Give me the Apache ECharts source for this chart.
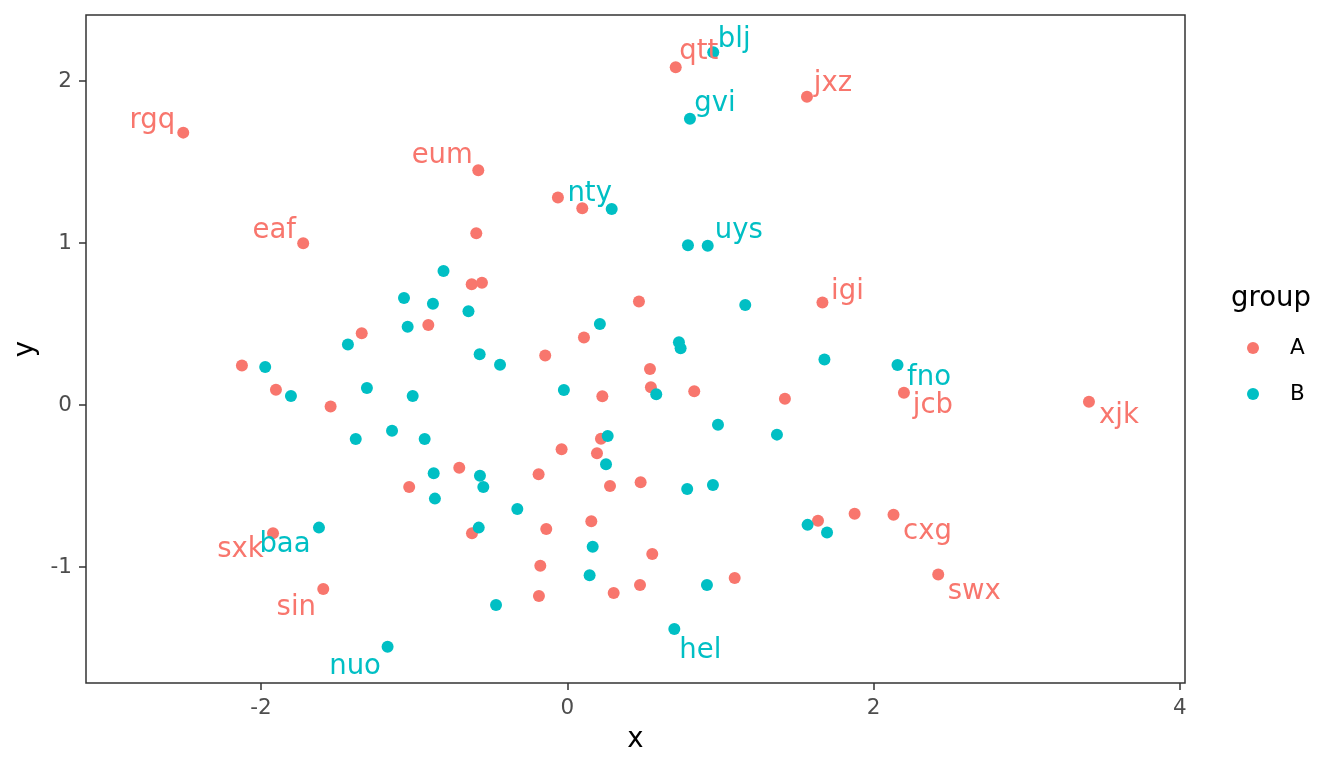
<!DOCTYPE html>
<html>
<head>
<meta charset="utf-8">
<script src="https://cdn.jsdelivr.net/npm/echarts@6/dist/echarts.min.js"></script>
<style>
  html, body { margin: 0; padding: 0; background: #ffffff; }
  #chart { width: 1344px; height: 768px; }
</style>
</head>
<body>
<div id="chart"></div>
<script>
// ---- data ----
const groupNames = ['A', 'B'];

const aX = [-2.507, -0.581, -1.724, -0.594, -0.624, -0.557, -0.907, -1.342, -2.124, -1.902,
            -1.545, -1.032, -0.705, -0.187, -0.622, -1.921, -1.593, -0.176, -0.185, -0.137,
            -0.037, -0.144, -0.061, 0.098, 0.708, 1.565, 0.109, 0.468, 0.540, 0.546,
            0.229, 0.220, 0.194, 0.279, 0.479, 0.157, 0.555, 0.303, 0.475, 1.093,
            0.829, 1.421, 1.666, 2.198, 3.406, 2.130, 1.876, 1.637, 2.422];
const aY = [1.681, 1.449, 0.998, 1.060, 0.745, 0.755, 0.494, 0.443, 0.243, 0.094,
            -0.010, -0.506, -0.387, -0.428, -0.792, -0.792, -1.136, -0.992, -1.179, -0.765,
            -0.273, 0.306, 1.280, 1.214, 2.085, 1.903, 0.417, 0.638, 0.222, 0.109,
            0.054, -0.208, -0.298, -0.500, -0.477, -0.718, -0.920, -1.160, -1.111, -1.068,
            0.085, 0.038, 0.632, 0.075, 0.020, -0.677, -0.671, -0.715, -1.046];
const aLabels = ['rgq', 'eum', 'eaf', '', '', '', '', '', '', '',
                 '', '', '', '', '', 'sxk', 'sin', '', '', '',
                 '', '', '', '', 'qtt', 'jxz', '', '', '', '',
                 '', '', '', '', '', '', '', '', '', '',
                 '', '', 'igi', 'jcb', 'xjk', 'cxg', '', '', 'swx'];

const bX = [0.953, 0.801, 0.290, 0.788, 0.917, -0.808, -1.066, -0.877, -0.645, -1.042,
            -1.432, 0.213, 1.162, 0.729, 0.740, -0.572, -0.439, -1.972, -1.804, -1.308,
            -1.009, -0.022, 0.581, 1.679, 2.156, -1.381, -1.144, -0.931, 0.264, 0.984,
            1.369, -0.872, 0.253, -0.570, -0.548, -0.864, -0.326, 0.783, 0.951, -1.621,
            -0.578, 0.166, 0.146, 0.912, -0.465, 0.699, -1.173, 1.569, 1.696];
const bY = [2.177, 1.767, 1.210, 0.986, 0.983, 0.827, 0.660, 0.625, 0.578, 0.483,
            0.373, 0.500, 0.617, 0.387, 0.350, 0.313, 0.249, 0.235, 0.056, 0.105,
            0.056, 0.093, 0.066, 0.281, 0.247, -0.210, -0.159, -0.210, -0.191, -0.122,
            -0.183, -0.422, -0.366, -0.437, -0.506, -0.578, -0.642, -0.519, -0.494, -0.757,
            -0.757, -0.875, -1.051, -1.111, -1.235, -1.383, -1.492, -0.740, -0.787];
const bLabels = ['blj', 'gvi', 'nty', '', 'uys', '', '', '', '', '',
                 '', '', '', '', '', '', '', '', '', '',
                 '', '', '', '', 'fno', '', '', '', '', '',
                 '', '', '', '', '', '', '', '', '', 'baa',
                 '', '', '', '', '', 'hel', 'nuo', '', ''];

const xTicks = [-2, 0, 2, 4];
const yTicks = [-1, 0, 1, 2];

// ---- label placement (repelled text offsets, pixels from the point) ----
const labelOffset = {
  rgq: [-31, -14], eum: [-36, -17], eaf: [-29, -15], nty: [-22, -17.5],
  qtt: [23, -17.5], blj: [21, -15], gvi: [25, -17], uys: [31, -17],
  jxz: [26, -15], igi: [25, -13], fno: [31.5, 10.5], jcb: [29, 11],
  xjk: [30, 12], cxg: [34, 14.5], swx: [36, 14.5], hel: [26, 19.5],
  nuo: [-32.5, 17.5], sin: [-27, 16], sxk: [-32.5, 14.5], baa: [-34, 15]
};
const labelShiftY = 2.5;

const colors = ['#F8766D', '#00BFC4'];
const FONT = 'DejaVu Sans';

function buildData(xs, ys, labels) {
  return xs.map((x, i) => {
    const name = labels[i];
    const item = { value: [x, ys[i]], name: name };
    if (name) {
      const o = labelOffset[name] || [0, 0];
      item.label = { show: true, offset: [o[0], o[1] + labelShiftY] };
    }
    return item;
  });
}

const groups = [
  { x: aX, y: aY, labels: aLabels },
  { x: bX, y: bY, labels: bLabels }
];

const series = groups.map((g, k) => ({
  name: groupNames[k],
  type: 'scatter',
  symbol: 'circle',
  symbolSize: 12,
  itemStyle: { color: colors[k], opacity: 1 },
  label: {
    show: false,
    position: 'inside',
    formatter: '{b}',
    color: colors[k],
    fontFamily: FONT,
    fontSize: 27.5,
    align: 'center',
    verticalAlign: 'middle'
  },
  emphasis: { disabled: true },
  animation: false,
  data: buildData(g.x, g.y, g.labels)
}));

const chart = echarts.init(document.getElementById('chart'), null, { renderer: 'canvas' });
chart.setOption({
  animation: false,
  backgroundColor: '#ffffff',
  textStyle: { fontFamily: FONT },
  title: {
    text: 'group',
    left: 1231,
    top: 285,
    padding: 0,
    textStyle: { fontFamily: FONT, fontSize: 27.5, fontWeight: 'normal', color: '#000000', lineHeight: 28 }
  },
  legend: {
    orient: 'vertical',
    left: 1247,
    top: 337,
    padding: 0,
    itemWidth: 12,
    itemHeight: 12,
    itemGap: 24,
    icon: 'circle',
    selectedMode: false,
    data: groupNames,
    textStyle: { fontFamily: FONT, fontSize: 21.5, color: '#000000', lineHeight: 20, padding: [0, 0, 0, 26] }
  },
  grid: {
    left: 86, right: 159, top: 15, bottom: 85,
    show: true,
    borderColor: '#333333',
    borderWidth: 1.5,
    backgroundColor: '#ffffff'
  },
  xAxis: {
    type: 'value',
    min: -3.142, max: 4.033,
    name: 'x',
    nameLocation: 'middle',
    nameGap: 43,
    nameTextStyle: { fontFamily: FONT, fontSize: 27.5, color: '#000000' },
    axisLine: { show: false, onZero: false },
    axisTick: { show: true, length: 7, lineStyle: { color: '#333333', width: 1.5 }, customValues: xTicks },
    axisLabel: { show: true, margin: 14, fontFamily: FONT, fontSize: 21.5, color: '#4D4D4D', customValues: xTicks, formatter: v => String(v) },
    splitLine: { show: false }
  },
  yAxis: {
    type: 'value',
    min: -1.716, max: 2.407,
    name: 'y',
    nameLocation: 'middle',
    nameGap: 41,
    nameRotate: 90,
    nameTextStyle: { fontFamily: FONT, fontSize: 27.5, color: '#000000' },
    axisLine: { show: false, onZero: false },
    axisTick: { show: true, length: 7, lineStyle: { color: '#333333', width: 1.5 }, customValues: yTicks },
    axisLabel: { show: true, margin: 14, fontFamily: FONT, fontSize: 21.5, color: '#4D4D4D', customValues: yTicks, formatter: v => String(v) },
    splitLine: { show: false }
  },
  series: series
});
</script>
</body>
</html>
